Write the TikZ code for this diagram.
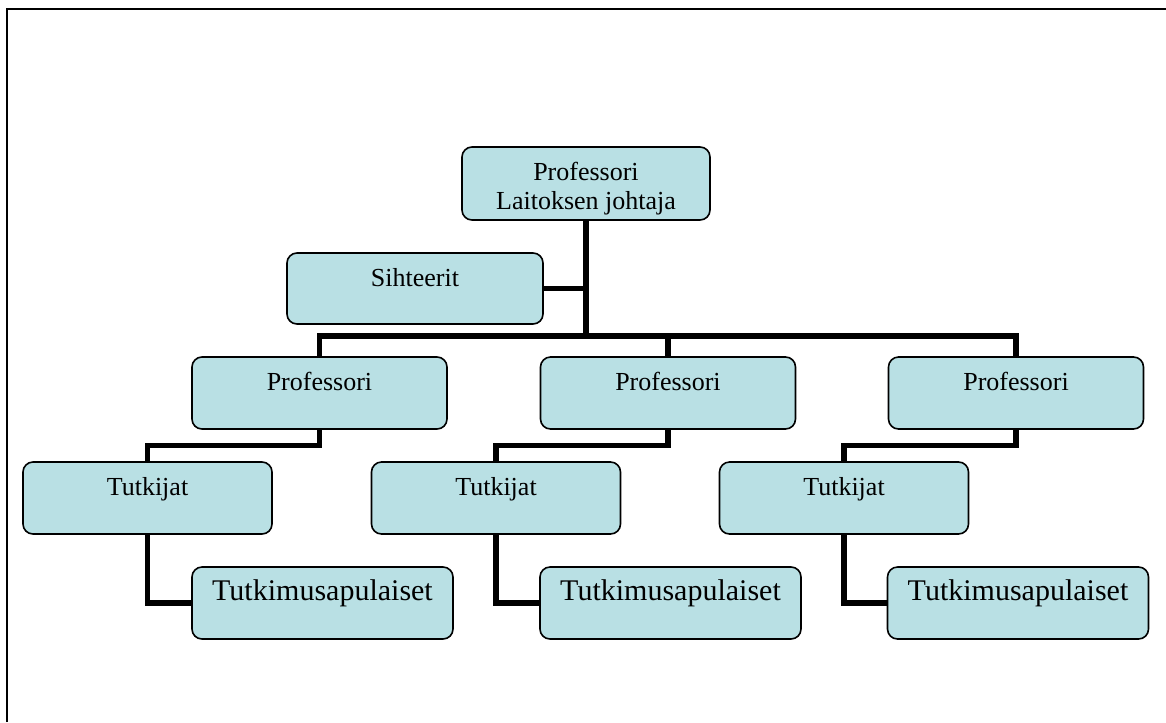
\documentclass[tikz,border=0pt]{standalone}
\usepackage{fontspec}
\setmainfont{Liberation Serif}
\definecolor{boxblue}{RGB}{185,224,228}

\begin{document}
\begin{tikzpicture}[x=0.75pt, y=-0.75pt, every node/.style={align=center},
  unit/.style={draw=black, line width=1.2pt, fill=boxblue, rounded corners=7.5pt, inner sep=0pt,
    font=\fontsize{19.5}{21.75}\selectfont, text height=24.75pt, text depth=29.25pt},
  prof/.style={unit, minimum width=191.25pt},
  tutk/.style={unit, minimum width=186.75pt},
  apu/.style={unit, minimum width=195.75pt, font=\fontsize{22.5}{24}\selectfont},
  link/.style={line width=4pt, line join=miter}]
\useasboundingbox (0,0) rectangle (1166,722);
\draw[line width=1.5pt] (7,722) -- (7,9) -- (1166,9);

% johto
\node (hod)  at (586,183.5) [unit, minimum width=186pt, text height=46.5pt, text depth=8.25pt] {Professori\\Laitoksen johtaja};
\node (siht) at (415,288.5) [unit, minimum width=192pt, text depth=28.5pt] {Sihteerit};

% professorit
\node (prof1) at (319.5,393) [prof] {Professori};
\node (prof2) at (668,393)   [prof] {Professori};
\node (prof3) at (1016,393)  [prof] {Professori};

% tutkijat
\node (tutk1) at (147.5,498) [tutk] {Tutkijat};
\node (tutk2) at (496,498)   [tutk] {Tutkijat};
\node (tutk3) at (844,498)   [tutk] {Tutkijat};

% apulaiset
\node (apu1) at (322.5,603) [apu] {Tutkimusapulaiset};
\node (apu2) at (670.5,603) [apu] {Tutkimusapulaiset};
\node (apu3) at (1018,603)  [apu] {Tutkimusapulaiset};

\coordinate (bus) at (586,336);
\draw[link] (hod.south) -- (bus);
\draw[link] (siht.east) -- (siht.east -| bus);
\draw[link] (bus) -| (prof1.north);
\draw[link] (bus) -| (prof2.north);
\draw[link] (bus) -| (prof3.north);
\foreach \i in {1,2,3} {
  \draw[link] (prof\i.south) -- ++(0,16) -| (tutk\i.north);
  \draw[link] (tutk\i.south) |- (apu\i.west);
}
\end{tikzpicture}
\end{document}
